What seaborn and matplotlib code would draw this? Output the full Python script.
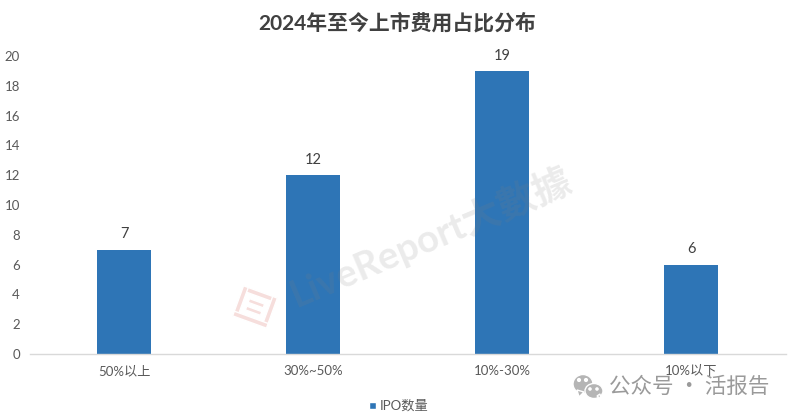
import matplotlib
matplotlib.use('Agg')
import matplotlib.pyplot as plt
import matplotlib.transforms as mtrans
from matplotlib.patches import Circle, Ellipse, Polygon, Rectangle
import pandas as pd
import seaborn as sns

categories = ['50%以上', '30%~50%', '10%-30%', '10%以下']
ipo_counts = [7, 12, 19, 6]
y_ticks = [0, 2, 4, 6, 8, 10, 12, 14, 16, 18, 20]
series_name = 'IPO数量'
chart_title = '2024年至今上市费用占比分布'

W, H = 793, 419
BAR_COLOR = '#2E75B6'
TEXT_COLOR = '#595959'

sns.set_theme(style='white')
plt.rcParams['font.family'] = ['Lato', 'Noto Sans CJK SC', 'DejaVu Sans']

df = pd.DataFrame({'category': categories, 'count': ipo_counts})

fig = plt.figure(figsize=(W / 100, H / 100), dpi=100, facecolor='white')
ax = fig.add_axes([29.5 / W, 1 - 354 / H, 756.5 / W, 298 / H])

sns.barplot(data=df, x='category', y='count', color=BAR_COLOR, width=0.286,
            saturation=1, linewidth=0, ax=ax, zorder=2)

ax.set_xlim(-0.5, 3.5)
ax.set_ylim(0, 20)
ax.set_yticks(y_ticks)
ax.set_xlabel('')
ax.set_ylabel('')
ax.tick_params(axis='both', length=0, labelsize=9.5, labelcolor=TEXT_COLOR)
ax.tick_params(axis='x', pad=8)
ax.tick_params(axis='y', pad=6.8)
sns.despine(ax=ax, left=True)
ax.spines['bottom'].set_color('#D9D9D9')
ax.spines['bottom'].set_linewidth(1)

for container in ax.containers:
    ax.bar_label(container, padding=6, fontsize=10.5, color='#404040')

fig.text(397 / W, 1 - 23 / H, chart_title, ha='center', va='center',
         fontsize=15, fontweight='bold', color='#404040')

# pixel coordinates with the origin top left
px = mtrans.Affine2D().scale(1, -1).translate(0, H)

# legend
fig.patches.append(Rectangle((369, 402), 7, 7, transform=px, facecolor=BAR_COLOR))
fig.text(380 / W, 1 - 405 / H, series_name, ha='left', va='center',
         fontsize=9.5, color=TEXT_COLOR)

# watermark
fig.text(431 / W, 1 - 236 / H, 'LiveReport大數據', ha='center', va='center',
         rotation=23, fontsize=27.5, fontweight='bold', color='#808080', alpha=0.16,
         family=['Lato', 'Noto Sans CJK TC', 'DejaVu Sans'], zorder=5)

# watermark logo, square outline with two bars, tilted
logo_tf = mtrans.Affine2D().rotate_deg_around(255, 307, 20) + px
logo_color = '#F6DEDC'
for x0, y0, w, h in [(237, 291, 36, 5), (237, 291, 5, 32), (268, 291, 5, 32), (237, 318, 36, 5),
                     (247, 301, 16, 4), (247, 309, 16, 4)]:
    fig.patches.append(Rectangle((x0, y0), w, h, transform=logo_tf, facecolor=logo_color))

# wechat mark at bottom right
GREY = '#B5B5B5'
fig.patches.append(Ellipse((583, 384), 20, 19, transform=px, facecolor=GREY))
fig.patches.append(Polygon([(577, 390), (579, 397), (584, 392)], transform=px, facecolor=GREY))
fig.patches.append(Ellipse((594, 391), 18, 15, transform=px, facecolor=GREY,
                           edgecolor='white', linewidth=1))
fig.patches.append(Polygon([(597, 396), (601, 399), (600, 394)], transform=px, facecolor=GREY))
for cx, cy, r in [(579, 380, 1.4), (586, 380, 1.4), (590, 389, 1.1), (597, 389, 1.1)]:
    fig.patches.append(Circle((cx, cy), r, transform=px, facecolor='white'))
fig.text(689 / W, 1 - 387 / H, '公众号 · 活报告', ha='center', va='center',
         fontsize=15.5, color='#9A9A9A', family=['Noto Sans CJK SC', 'DejaVu Sans'])

fig.savefig('out.png', dpi=100, facecolor='white')
